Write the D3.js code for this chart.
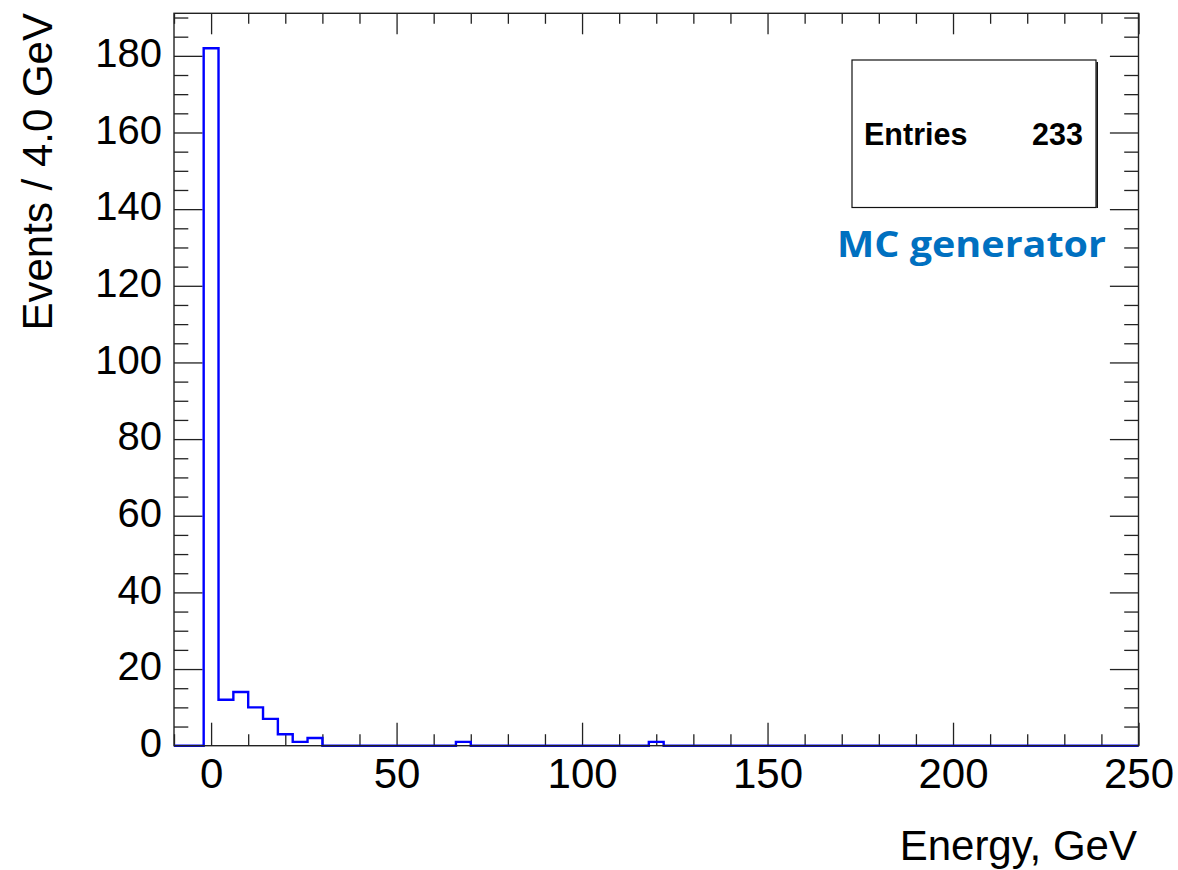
<!DOCTYPE html>
<html>
<head>
<meta charset="utf-8">
<script src="https://cdn.jsdelivr.net/npm/d3@7"></script>
<style>
  body { margin: 0; background: #fff; }
  svg { display: block; }
  .lab { font-family: "Liberation Sans", Arial, sans-serif; }
</style>
</head>
<body>
<div id="plot"></div>
<script>

// Histogram binning (4 GeV bins over the axis range) and counts per bin.
const binEdges = d3.range( -10, 251, 4 );
const counts = [
  0, 0, 182, 12, 14, 10, 7, 3, 1, 2,
  0, 0, 0, 0, 0, 0, 0, 0, 0, 1,
  0, 0, 0, 0, 0, 0, 0, 0, 0, 0,
  0, 0, 1, 0, 0, 0, 0, 0, 0, 0,
  0, 0, 0, 0, 0, 0, 0, 0, 0, 0,
  0, 0, 0, 0, 0, 0, 0, 0, 0, 0,
  0, 0, 0, 0, 0
];

// Axis ticks.
const xMajor = [ 0, 50, 100, 150, 200, 250 ];
const xMinor = [ -10, 10, 20, 30, 40, 60, 70, 80, 90, 110, 120, 130, 140, 160, 170, 180, 190, 210, 220, 230, 240 ];
const yMajor = [ 0, 20, 40, 60, 80, 100, 120, 140, 160, 180 ];
const yMinor = [ 5, 10, 15, 25, 30, 35, 45, 50, 55, 65, 70, 75, 85, 90, 95, 105, 110, 115,
                 125, 130, 135, 145, 150, 155, 165, 170, 175, 185, 190 ];

const xDomain = [ -10, 250 ];
const yDomain = [ 0, 191.1 ];

const statsLabel = 'Entries';
const statsValue = '233';
const xTitle = 'Energy, GeV';
const yTitle = 'Events / 4.0 GeV';
const note = 'MC generator';

const W = 1178, H = 870;
const frame = { left: 174, right: 1138.5, top: 13.3, bottom: 745.7 };

const svg = d3.select( '#plot' ).append( 'svg' )
  .attr( 'width', W )
  .attr( 'height', H );

const x = d3.scaleLinear().domain( xDomain ).range( [ frame.left, frame.right ] );
const y = d3.scaleLinear().domain( yDomain ).range( [ frame.bottom, frame.top ] );

// Helper to draw one set of ticks and clean up the domain path.
function drawAxis( axis, tx, ty, cls ){
  const g = svg.append( 'g' )
    .attr( 'class', 'lab ' + cls )
    .attr( 'transform', 'translate(' + tx + ',' + ty + ')' )
    .call( axis );
  g.select( '.domain' ).remove();
  g.selectAll( 'line' ).attr( 'stroke', '#222' ).attr( 'stroke-width', 1.3 );
  return g;
}

// Bottom axis, major ticks with labels.
const xb = drawAxis( d3.axisBottom( x ).tickValues( xMajor ).tickSize( -23 ).tickPadding( 12 ).tickFormat( d3.format( 'd' ) ),
  0, frame.bottom, 'xb' );
xb.selectAll( 'text' ).attr( 'font-size', 42 ).attr( 'fill', '#000' );
drawAxis( d3.axisBottom( x ).tickValues( xMinor ).tickSize( -11.5 ).tickFormat( '' ), 0, frame.bottom, 'xbm' );

// Top axis mirrors ticks without labels.
drawAxis( d3.axisTop( x ).tickValues( xMajor ).tickSize( -21 ).tickFormat( '' ), 0, frame.top, 'xt' );
drawAxis( d3.axisTop( x ).tickValues( xMinor ).tickSize( -10.5 ).tickFormat( '' ), 0, frame.top, 'xtm' );

// Left axis.
const yl = drawAxis( d3.axisLeft( y ).tickValues( yMajor ).tickSize( -28.6 ).tickPadding( 12 ),
  frame.left, 0, 'yl' );
yl.selectAll( 'text' ).attr( 'font-size', 40 ).attr( 'fill', '#000' ).attr( 'dy', '0.27em' );
drawAxis( d3.axisLeft( y ).tickValues( yMinor ).tickSize( -14.3 ).tickFormat( '' ), frame.left, 0, 'ylm' );

// Right axis.
drawAxis( d3.axisRight( y ).tickValues( yMajor ).tickSize( -28.6 ).tickFormat( '' ), frame.right, 0, 'yr' );
drawAxis( d3.axisRight( y ).tickValues( yMinor ).tickSize( -14.3 ).tickFormat( '' ), frame.right, 0, 'yrm' );

// Histogram outline as a step line.
const pts = counts.map( ( c, i ) => [ binEdges[ i ], c ] );
pts.push( [ binEdges[ counts.length ], counts[ counts.length - 1 ] ] );
const step = d3.line()
  .x( d => x( d[0] ) )
  .y( d => y( d[1] ) )
  .curve( d3.curveStepAfter );
svg.append( 'path' )
  .datum( pts )
  .attr( 'd', step )
  .attr( 'fill', 'none' )
  .attr( 'stroke', '#0000ff' )
  .attr( 'stroke-width', 2.4 );

// Frame.
svg.append( 'rect' )
  .attr( 'x', frame.left )
  .attr( 'y', frame.top )
  .attr( 'width', frame.right - frame.left )
  .attr( 'height', frame.bottom - frame.top )
  .attr( 'fill', 'none' )
  .attr( 'stroke', '#222' )
  .attr( 'stroke-width', 1.4 );

// Stats box.
const box = { x: 852, y: 60, w: 244, h: 147.5 };
svg.append( 'rect' )
  .attr( 'x', box.x ).attr( 'y', box.y )
  .attr( 'width', box.w ).attr( 'height', box.h )
  .attr( 'fill', '#fff' )
  .attr( 'stroke', '#111' )
  .attr( 'stroke-width', 1.2 );
// Shadow on the right side.
svg.append( 'line' )
  .attr( 'x1', box.x + box.w + 1.2 ).attr( 'x2', box.x + box.w + 1.2 )
  .attr( 'y1', box.y + 2 ).attr( 'y2', box.y + box.h + 0.6 )
  .attr( 'stroke', '#111' )
  .attr( 'stroke-width', 1.6 );
svg.append( 'text' )
  .attr( 'class', 'lab' )
  .attr( 'x', 864 ).attr( 'y', 145 )
  .attr( 'font-size', 30.5 ).attr( 'font-weight', 'bold' )
  .text( statsLabel );
svg.append( 'text' )
  .attr( 'class', 'lab' )
  .attr( 'x', 1083 ).attr( 'y', 145 )
  .attr( 'text-anchor', 'end' )
  .attr( 'font-size', 30.5 ).attr( 'font-weight', 'bold' )
  .text( statsValue );

// Annotation.
svg.append( 'text' )
  .attr( 'x', 837 ).attr( 'y', 257 )
  .attr( 'font-family', '"Open Sans", Lato, sans-serif' )
  .attr( 'font-weight', 'bold' )
  .attr( 'font-size', 36 )
  .attr( 'fill', '#0070c0' )
  .attr( 'textLength', 269 )
  .attr( 'lengthAdjust', 'spacingAndGlyphs' )
  .text( note );

// Axis titles.
svg.append( 'text' )
  .attr( 'class', 'lab' )
  .attr( 'x', 1137 ).attr( 'y', 860 )
  .attr( 'text-anchor', 'end' )
  .attr( 'font-size', 42 )
  .text( xTitle );

svg.append( 'text' )
  .attr( 'class', 'lab' )
  .attr( 'transform', 'translate(52, 13) rotate(-90)' )
  .attr( 'text-anchor', 'end' )
  .attr( 'font-size', 42 )
  .text( yTitle );

</script>
</body>
</html>
